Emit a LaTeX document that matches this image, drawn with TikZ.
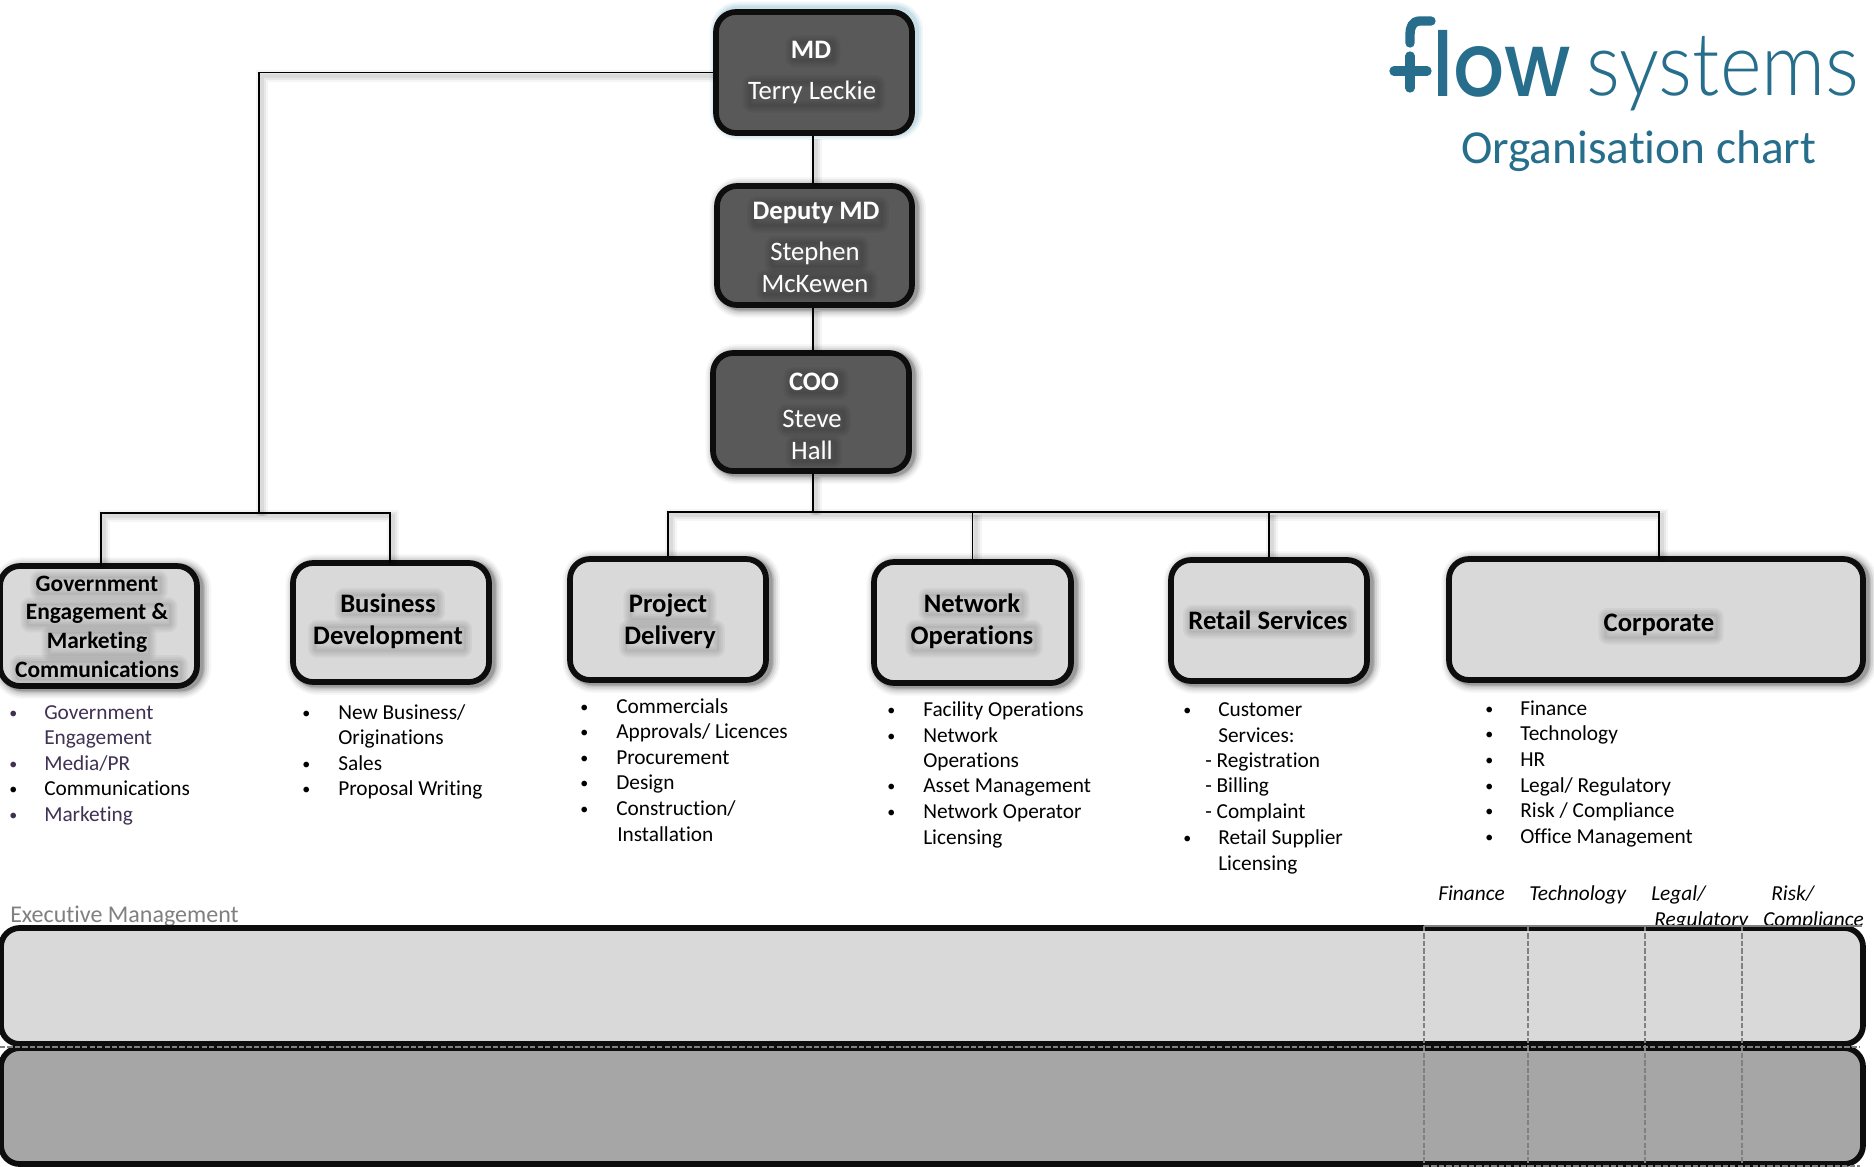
\documentclass[tikz,border=0pt]{standalone}
\usepackage{fontspec}
\setmainfont{Carlito}[Ligatures=NoCommon]
\newfontfamily\logobold{Poppins Medium}[FakeStretch=0.9]
\newfontfamily\logolight{Lato Light}[FakeStretch=0.905]
\usetikzlibrary{calc}
\definecolor{teal1}{HTML}{266E8B}
\definecolor{purp}{HTML}{403152}
\definecolor{darkbox}{HTML}{595959}
\definecolor{lightbox}{HTML}{D9D9D9}
\definecolor{midbox}{HTML}{A6A6A6}
\definecolor{glow}{HTML}{7FB4CC}
\newcounter{tn}
\tikzset{
  x=0.75pt,y=-0.75pt,
  softshadow/.style={
    preaction={draw=#1,draw opacity=.04,line width=16pt,line join=round,transform canvas={shift={(2.5pt,-1.5pt)}}},
    preaction={draw=#1,draw opacity=.06,line width=13pt,line join=round,transform canvas={shift={(2.5pt,-1.5pt)}}},
    preaction={draw=#1,draw opacity=.08,line width=10pt,line join=round,transform canvas={shift={(2.5pt,-1.5pt)}}},
    preaction={draw=#1,draw opacity=.12,line width=7pt,line join=round,transform canvas={shift={(2.5pt,-1.5pt)}}},
    preaction={draw=#1,draw opacity=.16,line width=5pt,line join=round,transform canvas={shift={(2.5pt,-1.5pt)}}}},
  glowshadow/.style={
    preaction={draw=#1,draw opacity=.10,line width=13pt,line join=round,transform canvas={shift={(1.8pt,1.2pt)}}},
    preaction={draw=#1,draw opacity=.16,line width=10pt,line join=round,transform canvas={shift={(1.8pt,1.2pt)}}},
    preaction={draw=#1,draw opacity=.22,line width=7pt,line join=round,transform canvas={shift={(1.8pt,1.2pt)}}}},
  boxbase/.style={draw=black!95,line width=4.3pt,inner sep=0pt,rounded corners=15pt},
  darkstyle/.style={boxbase,softshadow=black,fill=darkbox},
  mdstyle/.style={boxbase,glowshadow=glow,fill=darkbox},
  lightstyle/.style={boxbase,softshadow=black,fill=lightbox},
  execstyle/.style={boxbase,rounded corners=14pt,fill=#1},
  conn/.style={draw=black,line width=1.4pt,
    preaction={draw=black,draw opacity=.04,line width=9pt,transform canvas={shift={(2.5pt,-2.5pt)}}},
    preaction={draw=black,draw opacity=.05,line width=6pt,transform canvas={shift={(2.5pt,-2.5pt)}}},
    preaction={draw=black,draw opacity=.06,line width=3pt,transform canvas={shift={(2.5pt,-2.5pt)}}}},
  fuzz/.style={inner sep=1pt,rounded corners=2pt,
    preaction={draw=#1,draw opacity=.04,line width=9pt,line join=round,transform canvas={shift={(1.5pt,-1.5pt)}}},
    preaction={fill=#1,fill opacity=.05,draw=#1,draw opacity=.04,line width=6pt,line join=round,transform canvas={shift={(1.5pt,-1.5pt)}}},
    preaction={draw=#1,draw opacity=.04,line width=3pt,line join=round,transform canvas={shift={(1.5pt,-1.5pt)}}}},
  head/.style={anchor=base,text=white,font=\fontsize{20}{22}\bfseries,fuzz=black},
  whitetxt/.style={anchor=base,text=white,font=\fontsize{20}{22}\selectfont,fuzz=black},
  lighthead/.style={anchor=base,text=black,font=\fontsize{20}{22}\bfseries,fuzz=black},
  smallhead/.style={anchor=base,text=black,font=\fontsize{17.6}{20}\bfseries,fuzz=black},
  body/.style={anchor=base west,inner sep=0pt,font=\fontsize{16}{18}\selectfont},
  bulletmark/.style={anchor=base west,inner sep=0pt,font=\fontsize{12}{14}\selectfont},
  itlabel/.style={anchor=base west,inner sep=0pt,font=\fontsize{16}{18}\itshape},
  dashline/.style={draw=black!50,line width=.9pt,dash pattern=on 4pt off 1.6pt},
  logostroke/.style={draw=teal1,line width=7pt,line cap=round}
}
% box given by the centre line of its outline
\newcommand{\orgbox}[6]{%
  \pgfmathsetmacro{\bw}{(#4-#2)*0.75}\pgfmathsetmacro{\bh}{(#5-#3)*0.75}%
  \node[#6,minimum width=\bw pt,minimum height=\bh pt] (#1) at ({(#2+#4)/2},{(#3+#5)/2}) {};}
\newcommand{\tline}[4]{\stepcounter{tn}\node[#1] (txt\arabic{tn}) at (#2,#3) {#4};}
\newcommand{\lst}[5][black]{\stepcounter{tn}%
  \node[bulletmark,text=#1] (bul\arabic{tn}) at (#2,#4-1) {•};%
  \node[body,text=#1] (item\arabic{tn}) at (#3,#4) {#5};}
\newcommand{\cnt}[4][black]{\stepcounter{tn}\node[body,text=#1] (item\arabic{tn}) at (#2,#3) {#4};}
\begin{document}
\begin{tikzpicture}
\useasboundingbox (0,0) rectangle (1874,1167);
\fill[white] (0,0) rectangle (1874,1167);

% boxes
\orgbox{md}{716}{12}{912}{133}{mdstyle}
\orgbox{dep}{717}{186}{912}{305}{darkstyle}
\orgbox{coo}{713}{353}{909}{471}{darkstyle}
\orgbox{gov}{0}{566}{197}{686}{lightstyle}
\orgbox{biz}{293}{563}{489}{682}{lightstyle}
\orgbox{proj}{570}{559}{766}{680}{lightstyle}
\orgbox{net}{874}{562}{1071}{683}{lightstyle}
\orgbox{ret}{1171}{560}{1367}{681}{lightstyle}
\orgbox{corp}{1449}{559}{1863}{680}{lightstyle}

% connectors
\coordinate (leftbus) at (259,513);
\coordinate (spine) at (813,512);
\coordinate (govtap) at (101,566);
\coordinate (biztap) at (390,563);
\coordinate (corptap) at (1659,559);
\draw[conn] (md.west) -| (leftbus);
\draw[conn] (govtap) |- (biztap |- leftbus) -- (biztap);
\draw[conn] (spine |- md.south) -- (spine |- dep.north);
\draw[conn] (spine |- dep.south) -- (spine |- coo.north);
\draw[conn] (spine |- coo.south) -- (spine);
\draw[conn] (proj.north) |- (corptap |- spine) -- (corptap);
\draw[conn] (net.north) -- (net.north |- spine);
\draw[conn] (ret.north) -- (ret.north |- spine);

% box text
\tline{head}{811}{58}{MD}
\tline{whitetxt}{812}{99}{Terry Leckie}
\tline{head}{816}{219}{Deputy MD}
\tline{whitetxt}{815}{260}{Stephen}
\tline{whitetxt}{815}{292}{McKewen}
\tline{head}{814}{390}{COO}
\tline{whitetxt}{812}{427}{Steve}
\tline{whitetxt}{812}{459}{Hall}
\tline{smallhead}{97}{591}{Government}
\tline{smallhead}{97}{619}{Engagement \&}
\tline{smallhead}{97}{648}{Marketing}
\tline{smallhead}{97}{677}{Communications}
\tline{lighthead}{388}{612}{Business}
\tline{lighthead}{388}{644}{Development}
\tline{lighthead}{668}{612}{Project}
\tline{lighthead}{670}{644}{Delivery}
\tline{lighthead}{972}{612}{Network}
\tline{lighthead}{972}{644}{Operations}
\tline{lighthead}{1268}{629}{Retail Services}
\tline{lighthead}{1659}{631}{Corporate}

% lists
\lst[purp]{9}{44}{719}{Government}
\cnt[purp]{44}{744}{Engagement}
\lst[purp]{9}{44}{770}{Media/PR}
\lst{9}{44}{795}{Communications}
\lst[purp]{9}{44}{821}{Marketing}

\lst{302}{338}{719}{New Business/}
\cnt{338}{744}{Originations}
\lst{302}{338}{770}{Sales}
\lst{302}{338}{795}{Proposal Writing}

\lst{580}{616}{713}{Commercials}
\lst{580}{616}{738}{Approvals/ Licences}
\lst{580}{616}{764}{Procurement}
\lst{580}{616}{789}{Design}
\lst{580}{616}{815}{Construction/}
\cnt{617}{841}{Installation}

\lst{887}{923}{716}{Facility Operations}
\lst{887}{923}{742}{Network}
\cnt{923}{767}{Operations}
\lst{887}{923}{792}{Asset Management}
\lst{887}{923}{818}{Network Operator}
\cnt{923}{844}{Licensing}

\lst{1183}{1218}{716}{Customer}
\cnt{1218}{742}{Services:}
\cnt{1205}{767}{- Registration}
\cnt{1205}{792}{- Billing}
\cnt{1205}{818}{- Complaint}
\lst{1183}{1218}{844}{Retail Supplier}
\cnt{1218}{870}{Licensing}

\lst{1485}{1520}{715}{Finance}
\lst{1485}{1520}{740}{Technology}
\lst{1485}{1520}{766}{HR}
\lst{1485}{1520}{792}{Legal/ Regulatory}
\lst{1485}{1520}{817}{Risk / Compliance}
\lst{1485}{1520}{843}{Office Management}

% labels above the bands (the band covers their feet)
\tline{anchor=base west,inner sep=0pt,text=black!50,font=\fontsize{18}{20}\selectfont}{10}{922.5}{Executive Management}
\tline{itlabel}{1438}{900}{Finance}
\tline{itlabel}{1529}{900}{Technology}
\tline{itlabel}{1651}{900}{Legal/}
\tline{itlabel}{1654}{926}{Regulatory}
\tline{itlabel}{1771}{900}{Risk/}
\tline{itlabel}{1763}{926}{Compliance}

% bands
\orgbox{exec}{1}{928}{1863}{1044}{execstyle=lightbox}
\orgbox{ops}{1}{1048}{1863}{1164}{execstyle=midbox}

% dashed dividers
\coordinate (d1) at (1424,926);
\coordinate (d2) at (1528,926);
\coordinate (d3) at (1645,926);
\coordinate (d4) at (1742,926);
\foreach \d in {d1,d2,d3,d4}{\draw[dashline] (\d) -- (\d |- ops.south);}
\draw[draw=black!50,line width=.9pt] (d1) -- (1862,926);
\draw[dashline] (0,1047) -- (1860,1047);
\draw[dashline] (1424,1166) -- (1860,1166);

% logo
\draw[logostroke] (1431,21) -- (1420,21) .. controls (1412,21) and (1410,28) .. (1410,34) -- (1410,43);
\draw[logostroke] (1410,56) -- (1410,88);
\draw[logostroke] (1394,71) -- (1427,71);
\tline{anchor=base west,inner sep=0pt,text=teal1,font=\fontsize{67}{67}\logobold}{1432}{96}{low}
\tline{anchor=base west,inner sep=0pt,text=teal1,font=\fontsize{66}{66}\logolight}{1586}{95}{systems}
\tline{anchor=base west,inner sep=0pt,text=teal1,font=\fontsize{35.5}{38}\selectfont}{1461}{163}{Organisation chart}
\end{tikzpicture}
\end{document}
